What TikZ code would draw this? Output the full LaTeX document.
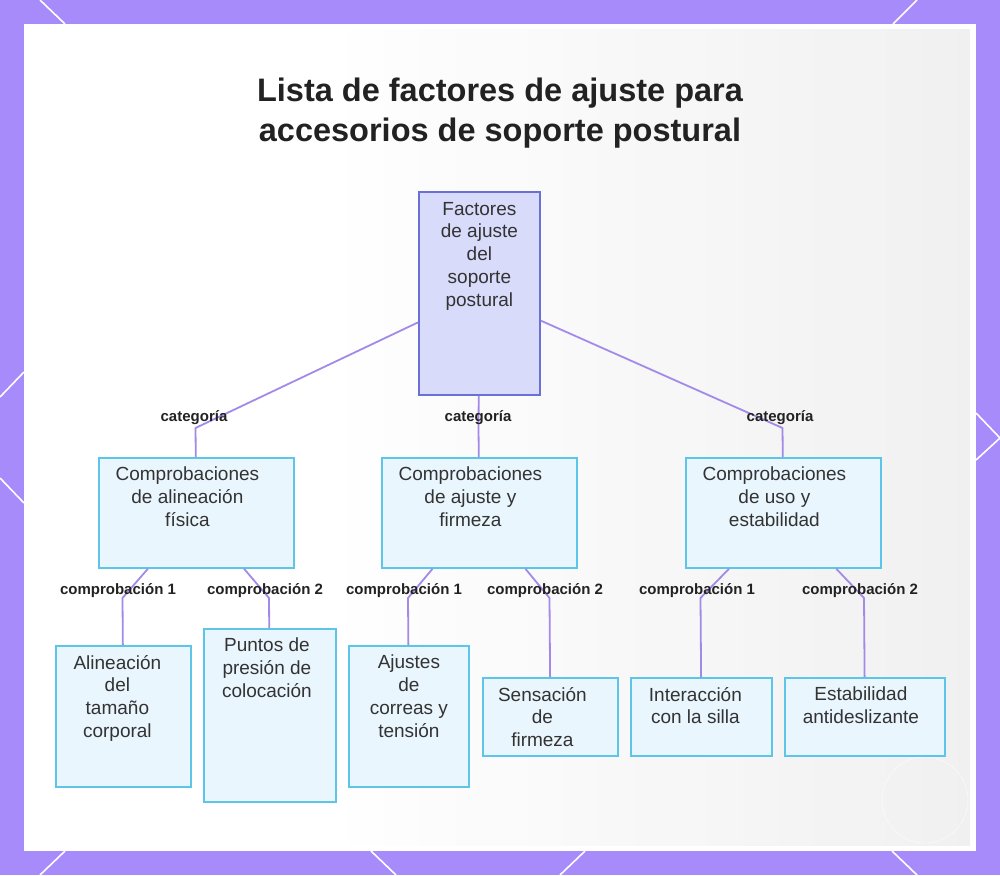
\documentclass[tikz,border=0pt]{standalone}
\usepackage{fontspec}
\setmainfont{Liberation Sans}
\definecolor{frame}{HTML}{A78BFA}
\definecolor{edgec}{HTML}{A38AE8}
\definecolor{rootfill}{HTML}{D8DBFA}
\definecolor{rootdraw}{HTML}{6B70D6}
\definecolor{boxfill}{HTML}{EAF6FE}
\definecolor{boxdraw}{HTML}{5CC5E8}
\definecolor{txtc}{HTML}{333333}
\definecolor{titlec}{HTML}{222222}
\tikzset{
  rootbox/.style={draw=rootdraw, fill=rootfill, line width=1.8pt, inner sep=0pt, anchor=north west},
  catbox/.style={draw=boxdraw, fill=boxfill, line width=1.8pt, inner sep=0pt, anchor=north west},
  boxtext/.style={anchor=north, inner sep=0pt, align=center, font=\fontsize{19}{22.7}\selectfont, text=txtc},
  edge/.style={draw=edgec, line width=1.8pt, line join=round},
  elabel/.style={font=\fontsize{15}{18}\selectfont\bfseries, text=titlec, inner sep=0pt},
  deco/.style={draw=white, line width=1.6pt}
}
\begin{document}
\begin{tikzpicture}[x=1pt,y=-1pt]
\useasboundingbox (0,0) rectangle (1000,875);
\fill[frame] (0,0) rectangle (1000,875);
% decorative lines on frame
\draw[deco] (40,0) -- (65,24);
\draw[deco] (917,0) -- (893,24);
\draw[deco] (0,397) -- (24,372);
\draw[deco] (0,478) -- (24,503);
\draw[deco] (976,413) -- (1000,438) -- (976,460);
\draw[deco] (65,851) -- (40,875);
\draw[deco] (371,851) -- (396,875);
\draw[deco] (585,851) -- (560,875);
\draw[deco] (892,851) -- (917,875);
% panel
\fill[white] (24,24) rectangle (976,851);
\shade[left color=white, right color=black!7, opacity=0.8] (330,30) rectangle (970,845);
\draw[white, line width=0.8pt, dash pattern=on 1pt off 1pt, opacity=0.9] (925,800) circle (43);
% title
\node[font=\fontsize{32.5}{40}\selectfont\bfseries, text=titlec, align=center, inner sep=0pt] (title) at (500,113) {Lista de factores de ajuste para\\accesorios de soporte postural};
% boxes
\node[rootbox, minimum width=121pt, minimum height=203pt] (root) at (418,191) {};
\node[boxtext] (roott) at ([yshift=-11pt]root.north) {Factores\\de ajuste\\del\\soporte\\postural};
\node[catbox, minimum width=195pt, minimum height=110pt] (c1) at (98,457) {};
\node[boxtext] (c1t) at ([xshift=-9pt,yshift=-10pt]c1.north) {Comprobaciones\\de alineación\\física};
\node[catbox, minimum width=195pt, minimum height=110pt] (c2) at (381,457) {};
\node[boxtext] (c2t) at ([xshift=-9pt,yshift=-10pt]c2.north) {Comprobaciones\\de ajuste y\\firmeza};
\node[catbox, minimum width=195pt, minimum height=110pt] (c3) at (685,457) {};
\node[boxtext] (c3t) at ([xshift=-9pt,yshift=-10pt]c3.north) {Comprobaciones\\de uso y\\estabilidad};
\node[catbox, minimum width=135pt, minimum height=141pt] (l1) at (55,645) {};
\node[boxtext] (l1t) at ([xshift=-6pt,yshift=-10pt]l1.north) {Alineación\\del\\tamaño\\corporal};
\node[catbox, minimum width=132pt, minimum height=173pt] (l2) at (203,628) {};
\node[boxtext] (l2t) at ([xshift=-3pt,yshift=-10pt]l2.north) {Puntos de\\presión de\\colocación};
\node[catbox, minimum width=120pt, minimum height=141pt] (l3) at (348,645) {};
\node[boxtext] (l3t) at ([yshift=-10pt]l3.north) {Ajustes\\de\\correas y\\tensión};
\node[catbox, minimum width=135pt, minimum height=78pt] (l4) at (482,677) {};
\node[boxtext] (l4t) at ([xshift=-8pt,yshift=-10pt]l4.north) {Sensación\\de\\firmeza};
\node[catbox, minimum width=141pt, minimum height=78pt] (l5) at (630,677) {};
\node[boxtext] (l5t) at ([xshift=-6pt,yshift=-10pt]l5.north) {Interacción\\con la silla};
\node[catbox, minimum width=160pt, minimum height=78pt] (l6) at (784,677) {};
\node[boxtext] (l6t) at ([xshift=-4pt,yshift=-10pt]l6.north) {Estabilidad\\antideslizante};
% bend points
\coordinate (b1) at (195.5,428);
\coordinate (b2) at (478.5,428);
\coordinate (b3) at (782.5,428);
\coordinate (d1) at (122.5,598);
\coordinate (d2) at (269,598);
\coordinate (d3) at (408,598);
\coordinate (d4) at (549.5,598);
\coordinate (d5) at (700.5,598);
\coordinate (d6) at (864,598);
% edges
\draw[edge] (root) -- (b1) -- (c1);
\draw[edge] (root) -- (b2) -- (c2);
\draw[edge] (root) -- (b3) -- (c3);
\draw[edge] (c1) -- (d1) -- (l1);
\draw[edge] (c1) -- (d2) -- (l2);
\draw[edge] (c2) -- (d3) -- (l3);
\draw[edge] (c2) -- (d4) -- (l4);
\draw[edge] (c3) -- (d5) -- (l5);
\draw[edge] (c3) -- (d6) -- (l6);
% edge labels
\node[elabel] (e1) at (194,418) {categoría};
\node[elabel] (e2) at (478,418) {categoría};
\node[elabel] (e3) at (780,418) {categoría};
\node[elabel] (f1) at (118,591) {comprobación 1};
\node[elabel] (f2) at (265,591) {comprobación 2};
\node[elabel] (f3) at (404,591) {comprobación 1};
\node[elabel] (f4) at (545,591) {comprobación 2};
\node[elabel] (f5) at (697,591) {comprobación 1};
\node[elabel] (f6) at (860,591) {comprobación 2};
\end{tikzpicture}
\end{document}
